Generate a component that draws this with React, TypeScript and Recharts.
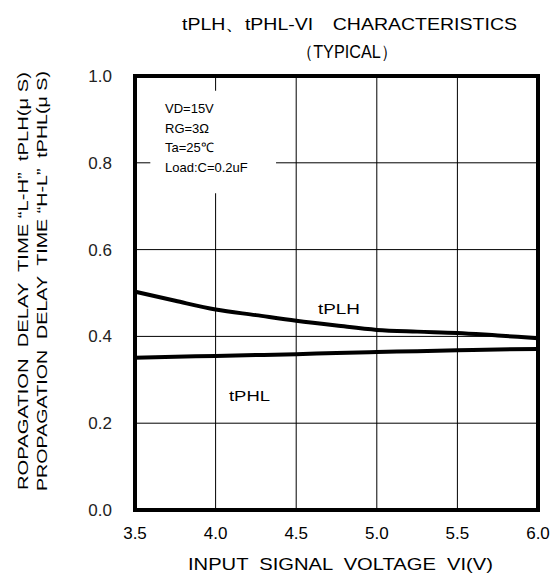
import { LineChart, Line, XAxis, YAxis, CartesianGrid, ReferenceArea } from 'recharts'

// input signal voltage VI (V)
const voltages = [3.5, 3.75, 4.0, 4.25, 4.5, 4.75, 5.0, 5.25, 5.5, 5.75, 6.0]
// delay times (us)
const tPLH = [0.503, 0.482, 0.462, 0.449, 0.436, 0.425, 0.415, 0.411, 0.408, 0.402, 0.396]
const tPHL = [0.351, 0.353, 0.355, 0.357, 0.359, 0.362, 0.364, 0.366, 0.368, 0.37, 0.371]

const xTicks = [3.5, 4.0, 4.5, 5.0, 5.5, 6.0]
const yTicks = [0, 0.2, 0.4, 0.6, 0.8, 1.0]
const conditions = ['VD=15V', 'RG=3Ω', 'Ta=25℃', 'Load:C=0.2uF']

const FONT = '"Liberation Sans", Arial, sans-serif'
const pre = { whiteSpace: 'pre' as const }

const data = voltages.map((v, i) => ({ v, tPLH: tPLH[i], tPHL: tPHL[i] }))

export default function App() {
  return (
    <div style={{ position: 'absolute', left: 0, top: 0, width: 552, height: 573, background: '#fff' }}>
      <LineChart
        width={552}
        height={573}
        data={data}
        margin={{ top: 76, right: 14, bottom: 33, left: 0 }}
      >
        <CartesianGrid stroke="#000" strokeWidth={1} strokeOpacity={1} />
        <XAxis
          dataKey="v"
          type="number"
          domain={[3.5, 6]}
          ticks={xTicks}
          tickFormatter={(t: number) => t.toFixed(1)}
          axisLine={false}
          tickLine={false}
          tickSize={0}
          tickMargin={17}
          height={30}
          tick={{ fill: '#000', fontSize: 17, fontFamily: FONT }}
        />
        <YAxis
          type="number"
          domain={[0, 1]}
          ticks={yTicks}
          tickFormatter={(t: number) => t.toFixed(1)}
          axisLine={false}
          tickLine={false}
          tickSize={0}
          tickMargin={23}
          width={135}
          tick={{ fill: '#222', fontSize: 17, fontFamily: FONT }}
        />
        {/* blank box behind the test conditions */}
        <ReferenceArea x1={3.595} x2={4.375} y1={0.73} y2={0.966} fill="#fff" fillOpacity={1} stroke="none" />
        <Line dataKey="tPLH" type="monotone" stroke="#000" strokeWidth={4} dot={false} isAnimationActive={false} />
        <Line dataKey="tPHL" type="monotone" stroke="#000" strokeWidth={4} dot={false} isAnimationActive={false} />
        {/* heavy frame */}
        <ReferenceArea x1={3.5} x2={6} y1={0} y2={1} fill="none" fillOpacity={0} stroke="#000" strokeWidth={4} ifOverflow="visible" />
      </LineChart>

      <svg
        width={552}
        height={573}
        style={{ position: 'absolute', left: 0, top: 0, pointerEvents: 'none' }}
        fontFamily={FONT}
        fill="#000"
      >
        <text x={182} y={30} fontSize={17} style={pre} xmlSpace="preserve" textLength={335} lengthAdjust="spacingAndGlyphs">
          {'tPLH、tPHL-VI　CHARACTERISTICS'}
        </text>
        <text x={297} y={58} fontSize={18} textLength={100} lengthAdjust="spacingAndGlyphs">
          （TYPICAL）
        </text>

        <text transform="translate(28,490) rotate(-90)" fontSize={15} style={pre} xmlSpace="preserve" textLength={418} lengthAdjust="spacingAndGlyphs">
          {'ROPAGATION  DELAY  TIME “L-H”  tPLH(μ S)'}
        </text>
        <text transform="translate(47,491) rotate(-90)" fontSize={15} style={pre} xmlSpace="preserve" textLength={420} lengthAdjust="spacingAndGlyphs">
          {'PROPAGATION  DELAY  TIME “H-L”  tPHL(μ S)'}
        </text>

        <text x={188} y={570} fontSize={17} style={pre} xmlSpace="preserve" textLength={305} lengthAdjust="spacingAndGlyphs">
          {'INPUT  SIGNAL  VOLTAGE  VI(V)'}
        </text>

        {conditions.map((c, i) => (
          <text key={c} x={165} y={113 + i * 19.7} fontSize={13}>
            {c}
          </text>
        ))}

        <text x={318} y={314} fontSize={15} textLength={42} lengthAdjust="spacingAndGlyphs">tPLH</text>
        <text x={229} y={401} fontSize={15} textLength={41} lengthAdjust="spacingAndGlyphs">tPHL</text>
      </svg>
    </div>
  )
}
